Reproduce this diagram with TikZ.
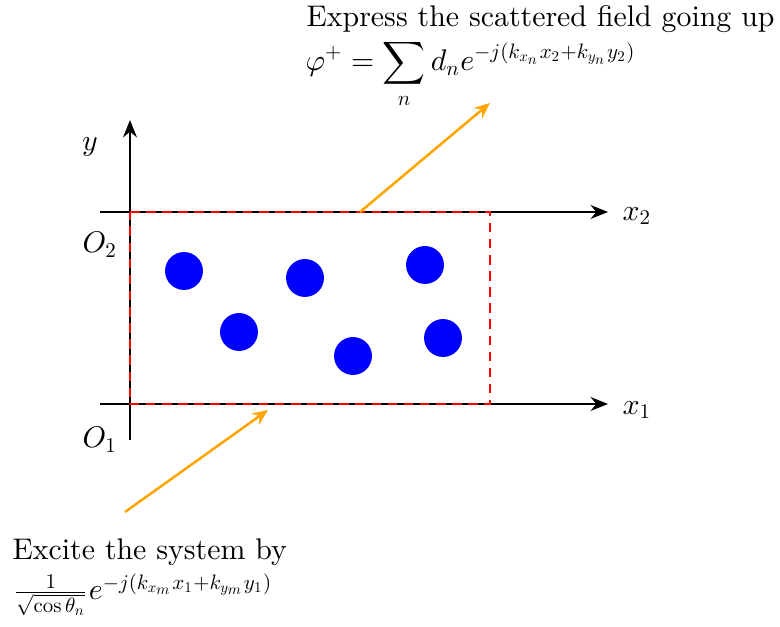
\documentclass[tikz,border=0pt]{standalone}
\usetikzlibrary{arrows.meta}
\DeclareFontShape{OML}{cmm}{m}{it}{<->cmmi10}{\skewchar\font=127}
\DeclareFontShape{OT1}{cmr}{m}{n}{<->cmr10}{}
\DeclareFontShape{OMS}{cmsy}{m}{n}{<->cmsy10}{\skewchar\font=48}
\definecolor{flowc}{RGB}{255,165,0}
\begin{document}
\begin{tikzpicture}[x=0.335pt,y=-0.335pt,
  axis/.style={line width=0.85pt,-{Stealth[length=5.8pt,width=4.6pt]}},
  frame/.style={red,line width=0.7pt,dash pattern=on 3.2pt off 2.2pt},
  scat/.style={circle,fill=blue,inner sep=0pt,minimum size=12.7pt},
  flow/.style={flowc,line width=0.85pt,-{Stealth[length=5.2pt,width=4.4pt]}},
  lbl/.style={inner sep=0pt}]
\useasboundingbox (0,0) rectangle (780,627);
% coordinates
\coordinate (ytop) at (130,120);
\coordinate (ybot) at (130,440);
\coordinate (x2s) at (100,212);
\coordinate (x2e) at (608,212);
\coordinate (x1s) at (100,404);
\coordinate (x1e) at (608,404);
\coordinate (r1) at (130,212);
\coordinate (r2) at (490,212);
\coordinate (r3) at (490,404);
\coordinate (r4) at (130,404);
% axes
\draw[axis] (ybot) -- (ytop);
\draw[axis] (x2s) -- (x2e);
\draw[axis] (x1s) -- (x1e);
% dashed region
\draw[frame] (r1) -- (r2) -- (r3) -- (r4) -- cycle;
% scatterers
\node[scat] (c1) at (184,271) {};
\node[scat] (c2) at (305,278) {};
\node[scat] (c3) at (425,265) {};
\node[scat] (c4) at (239,332) {};
\node[scat] (c5) at (353,356) {};
\node[scat] (c6) at (443,338) {};
% labels
\node[lbl] (lx2) at (637,216) {$x_2$};
\node[lbl] (lx1) at (637,410) {$x_1$};
\node[lbl] (ly) at (90,147) {$y$};
\node[lbl] (lo2) at (100,245) {$O_2$};
\node[lbl] (lo1) at (100,440) {$O_1$};
% orange arrows
\coordinate (a1s) at (360,212);
\coordinate (a1e) at (490,103);
\coordinate (a2s) at (125,512);
\coordinate (a2e) at (268,410);
\draw[flow] (a1s) -- (a1e);
\draw[flow] (a2s) -- (a2e);
% texts
\node[lbl,anchor=base west] (t1) at (306,27) {Express the scattered field going up};
\node[lbl,anchor=base west] (t2) at (305,71) {$\displaystyle\varphi^{+}=\sum_{n} d_n e^{-j(k_{x_n}x_2+k_{y_n}y_2)}$};
\node[lbl,anchor=base west] (t3) at (12,560) {Excite the system by};
\node[lbl,anchor=base west] (t4) at (12,600) {$\frac{1}{\sqrt{\cos\theta_n}}e^{-j(k_{x_m}x_1+k_{y_m}y_1)}$};
\end{tikzpicture}
\end{document}
